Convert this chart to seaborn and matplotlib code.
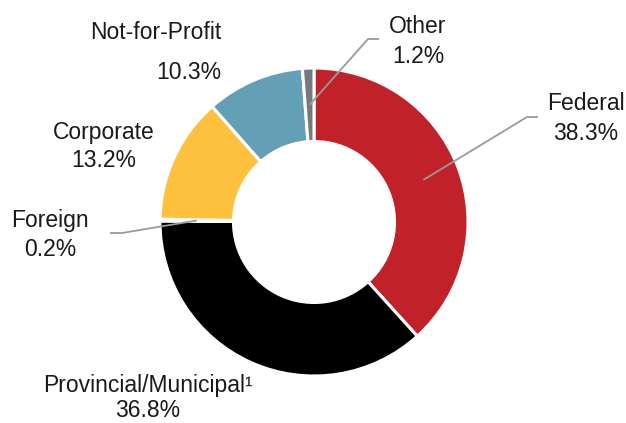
import numpy as np
import matplotlib
matplotlib.use("Agg")
import matplotlib.pyplot as plt
import seaborn as sns

# data
categories = ["Federal", "Provincial/Municipal\u00b9", "Foreign", "Corporate", "Not-for-Profit", "Other"]
shares = [38.3, 36.8, 0.2, 13.2, 10.3, 1.2]
slice_colors = ["#C1222A", "#000000", "#FFFFFF", "#FEC13E", "#64A0B5", "#76797A"]

sns.set_style("white")
plt.rcParams["font.family"] = ["Liberation Sans", "DejaVu Sans"]

W, H = 626, 423
fig = plt.figure(figsize=(6.26, 4.23), dpi=100)
ax = fig.add_axes([0, 0, 1, 1])

def py(y):
    # pixel row -> data y
    return H - y

cx, cy = 314, py(222)
R_out, ring = 154, 73.5

wedges, _ = ax.pie(
    shares, colors=slice_colors, startangle=90, counterclock=False,
    radius=R_out, center=(cx, cy),
    wedgeprops=dict(width=ring, edgecolor="white", linewidth=2.2),
)
ax.set_xlim(0, W)
ax.set_ylim(0, H)
ax.set_aspect("equal")
ax.axis("off")

txt = dict(fontsize=16.5, color="#1a1a1a")
line_kw = dict(color="#9a9a9a", lw=1.3, solid_capstyle="butt")
r_mid = R_out - ring / 2

def anchor(w):
    ang = np.deg2rad((w.theta1 + w.theta2) / 2)
    return cx + r_mid * np.cos(ang), cy + r_mid * np.sin(ang)

# label layout: x, name row, value row, alignment, leader elbow points
layout = {
    "Federal": (586, 103, 133, "center", [(527, 117), (538, 117)]),
    "Provincial/Municipal\u00b9": (148, 385, 410, "center", None),
    "Foreign": (50, 220, 250, "center", [(122, 233), (110, 233)]),
    "Corporate": (104, 132, 160, "center", None),
    "Not-for-Profit": (221, 32, 72, "right", None),
    "Other": (418, 26, 56, "center", [(368, 39), (379, 39)]),
}

for w, name, val in zip(wedges, categories, shares):
    x, y1, y2, ha, elbow = layout[name]
    ax.text(x, py(y1), name, ha=ha, va="center", **txt)
    ax.text(x, py(y2), f"{val:.1f}%", ha=ha, va="center", **txt)
    if elbow:
        ax0, ay0 = anchor(w)
        xs = [ax0] + [p[0] for p in elbow]
        ys = [ay0] + [py(p[1]) for p in elbow]
        ax.plot(xs, ys, **line_kw)

fig.savefig("out.png", dpi=100, facecolor="white")
